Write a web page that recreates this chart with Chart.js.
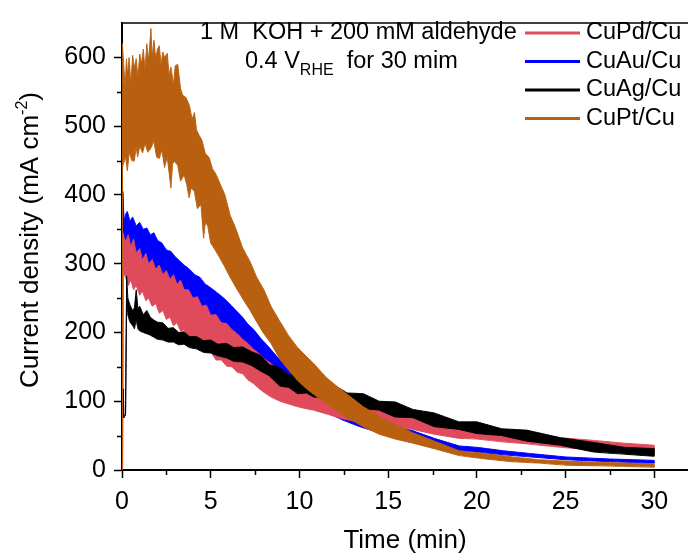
<!DOCTYPE html>
<html lang="en">
<head>
    <meta charset="UTF-8">
    <title>Current density vs time</title>
    <script src="https://cdn.jsdelivr.net/npm/chart.js"></script>
    <style>
        html, body { margin: 0; padding: 0; background: #fff; }
        .wrap { width: 688px; height: 554px; position: relative; }
    </style>
</head>
<body>
<div class="wrap"><canvas id="cd"></canvas></div>
<script>
    // series names + colours (legend order)
    const seriesNames = ['CuPd/Cu', 'CuAu/Cu', 'CuAg/Cu', 'CuPt/Cu'];
    const seriesColors = ['#DF4B5B', '#0000FF', '#000000', '#B8600F'];

    // noisy traces drawn as bands: upper / lower edge of the noise
    const pdTime  = [0.03,0.05,0.2,0.35,0.5,0.65,0.8,1.0,1.15,1.35,1.5,1.7,1.9,2.1,2.3,2.5,2.7,2.9,3.1,3.3,3.5,3.75,4.0,4.25,4.5,4.75,5.0,5.3,5.6,5.9,6.2,6.5,6.8,7.1,7.4,7.7,8.0,8.4,8.9,9.4,9.9,10.4,10.8,11.6,12.5,13.5,14.5,15.4,16.4,17.6,19,20,21.4,22.8,24.7,26.6,28.3,30];
    const pdUpper = [0,345,332,342,325,336,316,322,306,315,300,306,292,298,284,290,277,284,270,276,262,262,250,252,238,240,225,226,214,213,204,198,190,184,176,170,162,155,142,132,125,120,115,108,101,93,87,81,76,68,62,59,56,52,47,43,39,36];
    const pdLower = [0,290,280,268,276,262,268,254,260,246,250,238,242,228,232,219,222,210,214,202,204,192,195,182,184,171,172,160,160,151,150,142,140,131,126,119,113,106,100,96,92,89,87,81,74,69,65,62,59,52,46,45,41,38,33,29,26,24];

    const auTime  = [0.03,0.05,0.12,0.2,0.3,0.45,0.6,0.8,1.0,1.2,1.4,1.6,1.8,2.0,2.25,2.5,2.75,3.0,3.25,3.5,3.8,4.1,4.4,4.7,5.0,5.3,5.6,5.9,6.2,6.5,6.8,7.1,7.4,7.8,8.2,8.7,9.2,9.6,10.1,10.6,11.0,11.5,12.0,12.4,13.4,14.4,15.4,16.4,17.6,19,20,21.5,23,25,27.5,30];
    const auUpper = [0,405,362,372,376,362,368,355,360,350,352,342,345,334,330,320,318,310,304,298,292,284,280,270,265,259,253,246,238,230,222,212,205,192,181,166,152,143,132,122,116,108,101,95,82,72,64,57,46,35,33,28,24,19,16,14];
    const auLower = [0,330,322,318,322,312,315,305,306,298,298,290,290,282,276,268,264,255,250,242,236,226,220,210,205,194,188,180,176,168,164,156,151,143,135,125,116,108,100,93,88,83,78,73,63,55,50,45,37,28,26,22,19,15,12,10];

    const agTime  = [0.08,0.1,0.2,0.26,0.33,0.45,0.6,0.7,0.8,0.9,1.0,1.2,1.4,1.6,1.8,2.0,2.3,2.6,2.9,3.2,3.5,3.8,4.2,4.6,5.0,5.4,5.9,6.3,6.8,7.3,7.8,8.3,8.9,9.4,9.9,10.4,10.8,11.5,12.1,12.7,13.6,14.5,15.4,16.4,17.6,19,20,21.4,22.8,24.7,26.6,28.3,30];
    const agUpper = [118,76,82,282,250,240,232,236,262,235,238,226,232,222,218,215,214,206,207,200,201,194,194,188,189,183,184,178,179,172,167,153,149,138,138,128,130,120,121,112,111,100,99,88,83,70,70,60,58,47,40,33,31];
    const agLower = [118,76,80,250,225,215,210,205,218,205,202,200,198,196,193,190,189,186,186,182,183,178,176,171,170,166,163,158,157,152,144,137,122,120,111,112,106,105,98,99,89,87,77,76,63,59,53,50,42,36,26,23,20];

    const ptUpTime = [0.0,0.02,0.18,0.25,0.32,0.4,0.5,0.6,0.7,0.8,0.9,1.0,1.1,1.2,1.3,1.4,1.5,1.63,1.7,1.8,1.9,2.0,2.1,2.2,2.3,2.4,2.55,2.65,2.76,2.9,3.0,3.14,3.3,3.42,3.6,3.8,3.95,4.08,4.2,4.36,4.5,4.7,4.9,5.1,5.3,5.5,5.8,6.1,6.4,6.8,7.2,7.6,8.0,8.4,8.9,9.4,9.9,10.4,10.8,11.5,12.1,12.7,13.6,14.5,15.4,16.4,17.6,19,20.5,22,23.5,25,27,28.5,30];
    const ptUpper  = [0,620,555,598,575,600,560,603,585,598,570,605,590,612,582,620,595,642,600,625,598,612,617,590,608,600,606,575,586,560,588,590,555,545,542,530,510,520,495,486,480,460,455,438,430,418,400,370,352,323,304,280,262,238,216,195,178,165,155,135,122,110,92,78,66,54,42,28,24,19,15,13,11,10,9];
    const ptLoTime = [0.0,0.02,0.2,0.3,0.41,0.55,0.69,0.8,0.88,1.0,1.16,1.3,1.45,1.63,1.8,1.95,2.1,2.25,2.4,2.55,2.76,2.85,2.95,3.14,3.3,3.5,3.65,3.78,3.9,4.08,4.25,4.45,4.6,4.7,4.83,5.0,5.2,5.5,5.8,6.1,6.5,6.9,7.2,7.6,8.0,8.4,8.9,9.4,9.9,10.4,10.8,11.5,12.1,12.7,13.6,14.5,15.4,16.4,17.6,19,20.5,22,23.5,25,27,28.5,30];
    const ptLower  = [0,440,455,435,462,450,449,470,455,471,461,475,462,468,478,455,453,465,440,455,410,445,449,443,420,429,415,396,410,405,380,386,337,360,355,330,322,309,295,280,262,245,233,215,198,184,161,145,130,118,110,97,86,76,63,52,45,39,31,21,16,12,10,7,6,5,4];

    // axis ticks
    const xMajor = [0, 5, 10, 15, 20, 25, 30];
    const yMajor = [0, 100, 200, 300, 400, 500, 600];

    const FONT = "'Liberation Sans', Arial, sans-serif";

    // one closed outline per trace: along the upper edge, back along the lower edge
    function outline(tUp, up, tLo, lo) {
        const fwd = tUp.map((x, i) => ({ x: x, y: up[i] }));
        const back = tLo.map((x, i) => ({ x: x, y: lo[i] })).reverse();
        return fwd.concat(back);
    }

    function band(color, order, data) {
        return {
            data: data, borderColor: color, backgroundColor: color,
            borderWidth: 1, pointRadius: 0, tension: 0.01,
            fill: 'shape', order: order
        };
    }

    // draw order: orange on top, then black, red, blue at the bottom
    const datasets = [
        band(seriesColors[3], 1, outline(ptUpTime, ptUpper, ptLoTime, ptLower)),
        band(seriesColors[2], 2, outline(agTime, agUpper, agTime, agLower)),
        band(seriesColors[0], 3, outline(pdTime, pdUpper, pdTime, pdLower)),
        band(seriesColors[1], 4, outline(auTime, auUpper, auTime, auLower))
    ];

    const extras = {
        id: 'extras',
        afterDraw(chart) {
            const { ctx, chartArea: a, scales: { x, y } } = chart;
            ctx.save();
            ctx.strokeStyle = '#000';
            ctx.lineWidth = 1.5;
            ctx.beginPath();
            ctx.moveTo(a.left, a.top);
            ctx.lineTo(a.right, a.top);
            // minor ticks
            for (let v = 2.5; v < x.max; v += 5) {
                const px = Math.round(x.getPixelForValue(v)) + 0.5;
                ctx.moveTo(px, a.bottom);
                ctx.lineTo(px, a.bottom + 5);
            }
            for (let v = 50; v < y.max; v += 100) {
                const py = Math.round(y.getPixelForValue(v)) + 0.5;
                ctx.moveTo(a.left, py);
                ctx.lineTo(a.left - 5, py);
            }
            ctx.stroke();

            // legend
            ctx.font = '23.5px ' + FONT;
            ctx.textBaseline = 'middle';
            ctx.textAlign = 'left';
            seriesNames.forEach((name, i) => {
                const yy = 33 + i * 28.5;
                ctx.strokeStyle = seriesColors[i];
                ctx.lineWidth = 3;
                ctx.beginPath();
                ctx.moveTo(525, yy);
                ctx.lineTo(580, yy);
                ctx.stroke();
                ctx.fillStyle = '#000';
                ctx.fillText(name, 586, yy);
            });

            // conditions
            ctx.font = '23.5px ' + FONT;
            ctx.fillText('1 M  KOH + 200 mM aldehyde', 200, 33);
            let xx = 245;
            ctx.fillText('0.4 V', xx, 62);
            xx += ctx.measureText('0.4 V').width;
            ctx.font = '16px ' + FONT;
            ctx.fillText('RHE', xx, 71);
            xx += ctx.measureText('RHE').width;
            ctx.font = '23.5px ' + FONT;
            ctx.fillText('  for 30 mim', xx, 62);

            // axis titles
            ctx.font = '26px ' + FONT;
            ctx.textAlign = 'center';
            ctx.fillText('Time (min)', (a.left + a.right) / 2, 541);

            ctx.translate(31, 240);
            ctx.rotate(-Math.PI / 2);
            const main = 'Current density (mA cm';
            ctx.font = '26px ' + FONT;
            const w1 = ctx.measureText(main).width;
            ctx.font = '16px ' + FONT;
            const w2 = ctx.measureText('-2').width;
            ctx.font = '26px ' + FONT;
            const w3 = ctx.measureText(')').width;
            let sx = -(w1 + w2 + w3) / 2;
            ctx.textAlign = 'left';
            ctx.fillText(main, sx, 0);
            sx += w1;
            ctx.font = '16px ' + FONT;
            ctx.fillText('-2', sx, -8);
            sx += w2;
            ctx.font = '26px ' + FONT;
            ctx.fillText(')', sx, 0);
            ctx.restore();
        }
    };

    Chart.defaults.font.family = FONT;
    Chart.defaults.color = '#000';

    new Chart(document.getElementById('cd'), {
        type: 'line',
        data: { datasets: datasets },
        options: {
            responsive: true,
            maintainAspectRatio: false,
            animation: false,
            layout: { padding: { top: 13, right: 0, left: 0, bottom: 0 } },
            plugins: { legend: { display: false }, tooltip: { enabled: false } },
            scales: {
                x: {
                    type: 'linear', min: 0, max: 31.9,
                    afterFit: s => { s.height = 84; },
                    afterBuildTicks: s => { s.ticks = xMajor.map(v => ({ value: v })); },
                    grid: { drawOnChartArea: false, tickLength: 8, tickWidth: 1.5, tickColor: '#000' },
                    border: { color: '#000', width: 2 },
                    ticks: { font: { size: 25 }, padding: 9, maxRotation: 0 }
                },
                y: {
                    min: 0, max: 650,
                    afterFit: s => { s.width = 122; },
                    afterBuildTicks: s => { s.ticks = yMajor.map(v => ({ value: v })); },
                    grid: { drawOnChartArea: false, tickLength: 8, tickWidth: 1.5, tickColor: '#000' },
                    border: { color: '#000', width: 2 },
                    ticks: { font: { size: 25 }, padding: 8 }
                }
            }
        },
        plugins: [extras]
    });
</script>
</body>
</html>
